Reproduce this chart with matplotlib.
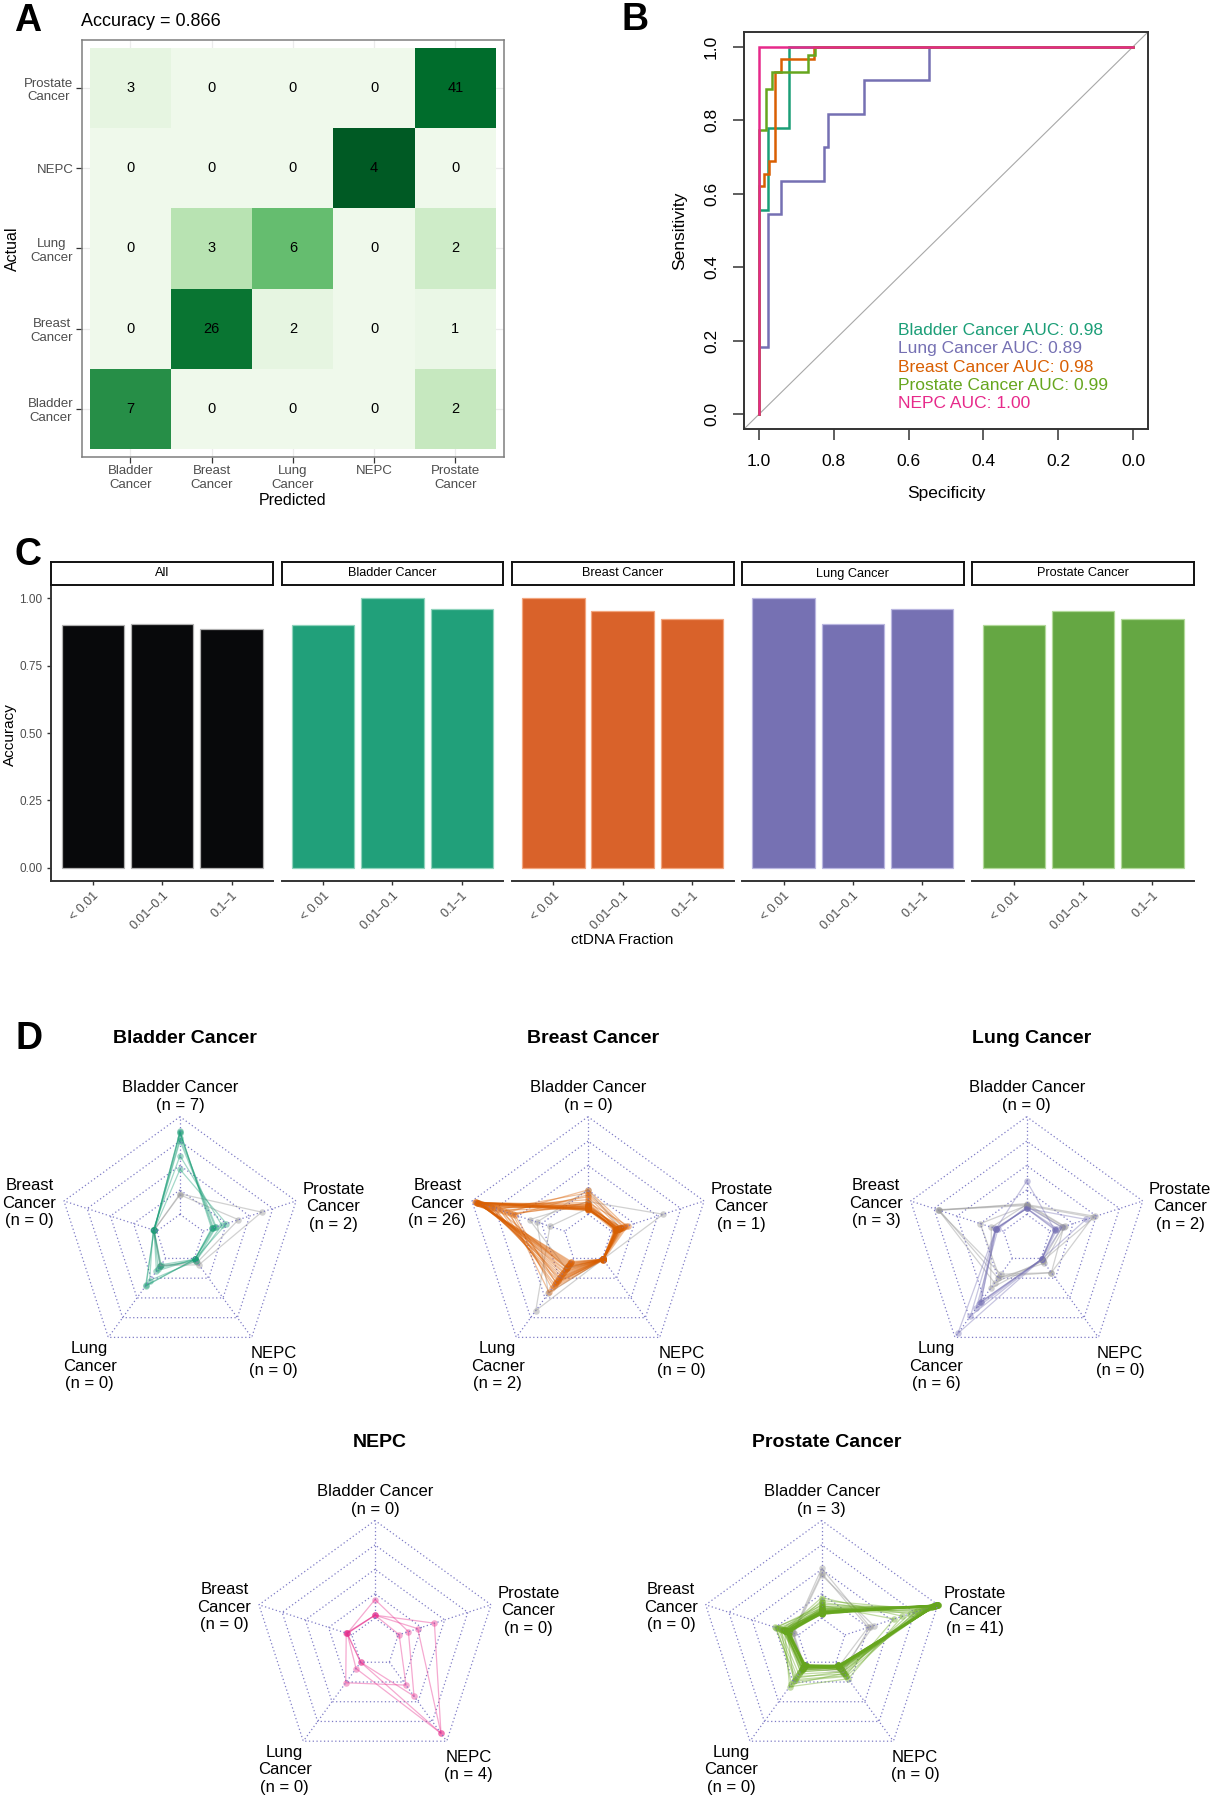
import numpy as np
import matplotlib
matplotlib.use('Agg')
import matplotlib.pyplot as plt
from matplotlib.colors import Normalize

plt.rcParams['font.family'] = ['Liberation Sans', 'DejaVu Sans']

# ---------------- data ----------------
classes = ['Bladder Cancer', 'Breast Cancer', 'Lung Cancer', 'NEPC', 'Prostate Cancer']
short_names = ['Bladder\nCancer', 'Breast\nCancer', 'Lung\nCancer', 'NEPC', 'Prostate\nCancer']
# rows = actual, cols = predicted (same order as classes)
counts = np.array([[7, 0, 0, 0, 2],
                   [0, 26, 2, 0, 1],
                   [0, 3, 6, 0, 2],
                   [0, 0, 0, 4, 0],
                   [3, 0, 0, 0, 41]])
accuracy = 0.866

# ROC curves (specificity, sensitivity vertices)
roc_bladder_spec = [1, 1, 0.977, 0.977, 0.919, 0.919, 0]
roc_bladder_sens = [0, 0.556, 0.556, 0.778, 0.778, 1, 1]
roc_lung_spec = [1, 1, 0.977, 0.977, 0.940, 0.940, 0.825, 0.825, 0.815, 0.815, 0.720, 0.720, 0.546, 0.546, 0]
roc_lung_sens = [0, 0.182, 0.182, 0.545, 0.545, 0.636, 0.636, 0.727, 0.727, 0.818, 0.818, 0.909, 0.909, 1, 1]
roc_breast_spec = [1, 1, 0.987, 0.987, 0.972, 0.972, 0.957, 0.957, 0.942, 0.942, 0.853, 0.853, 0]
roc_breast_sens = [0, 0.621, 0.621, 0.655, 0.655, 0.690, 0.690, 0.931, 0.931, 0.966, 0.966, 1, 1]
roc_prostate_spec = [1, 1, 0.982, 0.982, 0.964, 0.964, 0.869, 0.869, 0.851, 0.851, 0]
roc_prostate_sens = [0, 0.773, 0.773, 0.886, 0.886, 0.932, 0.932, 0.977, 0.977, 1, 1]
roc_nepc_spec = [1, 1, 0]
roc_nepc_sens = [0, 1, 1]
auc_names = ['Bladder Cancer', 'Lung Cancer', 'Breast Cancer', 'Prostate Cancer', 'NEPC']
auc_values = [0.98, 0.89, 0.98, 0.99, 1.00]

# accuracy by ctDNA fraction
facet_names = ['All', 'Bladder Cancer', 'Breast Cancer', 'Lung Cancer', 'Prostate Cancer']
ctdna_bins = ['< 0.01', '0.01\u20130.1', '0.1\u20131']
acc_all = [0.900, 0.905, 0.886]
acc_bladder = [0.900, 1.000, 0.961]
acc_breast = [1.000, 0.953, 0.923]
acc_lung = [1.000, 0.904, 0.961]
acc_prostate = [0.900, 0.953, 0.923]

# radar scores per sample: [bladder, breast, lung, nepc, prostate]
bladder_hit = [[0.85, 0.03, 0.35, 0.01, 0.09],
               [0.83, 0.03, 0.34, 0.01, 0.11],
               [0.75, 0.03, 0.13, 0.01, 0.13],
               [0.60, 0.04, 0.28, 0.03, 0.20],
               [0.46, 0.03, 0.16, 0.01, 0.25],
               [0.84, 0.03, 0.08, 0.01, 0.10],
               [0.78, 0.03, 0.10, 0.03, 0.14]]
bladder_miss = [[0.21, 0.03, 0.09, 0.08, 0.63],
                [0.20, 0.03, 0.09, 0.05, 0.38]]

breast_hit = [[0.06, 0.96, 0.08, 0.01, 0.05], [0.05, 0.95, 0.10, 0.01, 0.06],
              [0.08, 0.96, 0.06, 0.01, 0.04], [0.04, 0.94, 0.12, 0.01, 0.07],
              [0.07, 0.93, 0.09, 0.02, 0.05], [0.10, 0.95, 0.07, 0.01, 0.08],
              [0.05, 0.92, 0.15, 0.01, 0.06], [0.06, 0.90, 0.11, 0.01, 0.10],
              [0.09, 0.91, 0.18, 0.01, 0.05], [0.04, 0.88, 0.20, 0.01, 0.09],
              [0.12, 0.89, 0.14, 0.02, 0.07], [0.06, 0.86, 0.22, 0.01, 0.06],
              [0.08, 0.85, 0.25, 0.01, 0.11], [0.05, 0.83, 0.17, 0.01, 0.08],
              [0.15, 0.80, 0.28, 0.01, 0.06], [0.07, 0.78, 0.24, 0.01, 0.12],
              [0.10, 0.76, 0.30, 0.02, 0.09], [0.22, 0.72, 0.12, 0.01, 0.14],
              [0.06, 0.70, 0.33, 0.01, 0.07], [0.18, 0.66, 0.35, 0.01, 0.10],
              [0.25, 0.62, 0.27, 0.01, 0.16], [0.09, 0.59, 0.43, 0.01, 0.08],
              [0.12, 0.56, 0.38, 0.02, 0.18], [0.20, 0.54, 0.31, 0.01, 0.13],
              [0.07, 0.94, 0.05, 0.01, 0.04], [0.05, 0.97, 0.04, 0.01, 0.03]]
breast_miss = [[0.06, 0.16, 0.66, 0.01, 0.06],
               [0.25, 0.30, 0.44, 0.01, 0.10],
               [0.13, 0.38, 0.13, 0.01, 0.56]]

lung_hit = [[0.34, 0.08, 0.55, 0.01, 0.05],
            [0.06, 0.08, 0.73, 0.01, 0.06],
            [0.06, 0.08, 0.95, 0.01, 0.05],
            [0.06, 0.08, 0.55, 0.01, 0.39],
            [0.06, 0.09, 0.58, 0.01, 0.08],
            [0.08, 0.06, 0.63, 0.01, 0.13]]
lung_miss = [[0.10, 0.71, 0.20, 0.18, 0.15],
             [0.09, 0.70, 0.31, 0.03, 0.13],
             [0.11, 0.69, 0.25, 0.06, 0.16],
             [0.10, 0.13, 0.38, 0.03, 0.49],
             [0.09, 0.25, 0.23, 0.18, 0.46]]

nepc_hit = [[0.03, 0.05, 0.00, 0.90, 0.39],
            [0.03, 0.05, 0.08, 0.90, 0.21],
            [0.19, 0.05, 0.00, 0.43, 0.11],
            [0.03, 0.06, 0.26, 0.29, 0.01]]
nepc_miss = []

prostate_hit = [[0.05, 0.12, 0.04, 0.04, 0.99], [0.06, 0.10, 0.05, 0.05, 0.98],
                [0.04, 0.13, 0.03, 0.04, 1.00], [0.07, 0.11, 0.06, 0.06, 0.97],
                [0.05, 0.14, 0.04, 0.05, 0.99], [0.08, 0.09, 0.05, 0.04, 0.98],
                [0.05, 0.12, 0.07, 0.06, 0.96], [0.06, 0.15, 0.04, 0.05, 1.00],
                [0.04, 0.10, 0.05, 0.07, 0.99], [0.09, 0.12, 0.06, 0.05, 0.97],
                [0.05, 0.11, 0.03, 0.04, 0.98], [0.07, 0.13, 0.05, 0.06, 0.99],
                [0.06, 0.16, 0.08, 0.05, 0.95], [0.04, 0.12, 0.04, 0.08, 0.98],
                [0.05, 0.10, 0.06, 0.05, 1.00], [0.10, 0.14, 0.05, 0.06, 0.96],
                [0.06, 0.11, 0.09, 0.07, 0.97], [0.05, 0.13, 0.04, 0.05, 0.99],
                [0.07, 0.17, 0.06, 0.04, 0.94], [0.08, 0.12, 0.05, 0.09, 0.96],
                [0.05, 0.14, 0.10, 0.06, 0.95], [0.06, 0.10, 0.04, 0.05, 0.99],
                [0.04, 0.11, 0.05, 0.04, 1.00], [0.09, 0.15, 0.07, 0.06, 0.93],
                [0.06, 0.13, 0.12, 0.08, 0.94], [0.05, 0.12, 0.04, 0.05, 0.98],
                [0.11, 0.10, 0.06, 0.07, 0.95], [0.07, 0.18, 0.08, 0.05, 0.92],
                [0.05, 0.11, 0.05, 0.10, 0.96], [0.12, 0.14, 0.09, 0.06, 0.90],
                [0.06, 0.20, 0.15, 0.12, 0.86], [0.14, 0.16, 0.12, 0.09, 0.88],
                [0.08, 0.22, 0.18, 0.15, 0.82], [0.18, 0.13, 0.10, 0.07, 0.84],
                [0.10, 0.25, 0.20, 0.12, 0.78], [0.07, 0.12, 0.24, 0.18, 0.75],
                [0.16, 0.19, 0.28, 0.14, 0.70], [0.21, 0.15, 0.31, 0.21, 0.62],
                [0.13, 0.24, 0.22, 0.17, 0.53], [0.05, 0.09, 0.04, 0.05, 0.99],
                [0.06, 0.12, 0.05, 0.04, 0.97]]
prostate_miss = [[0.51, 0.06, 0.07, 0.13, 0.27],
                 [0.44, 0.05, 0.05, 0.10, 0.31],
                 [0.46, 0.06, 0.06, 0.05, 0.25]]

# ---------------- style ----------------
col_bladder = '#1B9E77'
col_breast = '#D95F02'
col_lung = '#7570B3'
col_prostate = '#66A61E'
col_nepc = '#E7298A'
bar_colors = ['#08090B', '#21A07A', '#D9622A', '#7671B3', '#65A743']
bar_edges = ['#B0B0B0', '#8FD3BC', '#F2A57E', '#B9B6E0', '#B2D99A']

W, H = 1211, 1800
fig = plt.figure(figsize=(W / 100, H / 100), dpi=100)


def box(x0, y0, x1, y1):
    # pixel box measured from top-left -> figure fraction rect
    return [x0 / W, 1 - y1 / H, (x1 - x0) / W, (y1 - y0) / H]


def letter(x, y, s):
    fig.text(x / W, 1 - y / H, s, fontsize=27, fontweight='bold', va='baseline', ha='left')


# ---------------- A: confusion matrix ----------------
axA = fig.add_axes(box(81.7, 40, 504, 457))
prop = counts / counts.sum(axis=1, keepdims=True)
edges = np.arange(0.5, 6.0, 1.0)
axA.pcolormesh(edges, edges, prop, cmap='Greens', norm=Normalize(vmin=-0.07, vmax=1.08), zorder=2)
for i in range(5):
    for j in range(5):
        axA.text(j + 1, i + 1, str(counts[i, j]), ha='center', va='center', fontsize=10.5, zorder=3)
axA.set_xlim(0.4, 5.6)
axA.set_ylim(0.4, 5.6)
axA.set_xticks(range(1, 6))
axA.set_yticks(range(1, 6))
axA.set_xticklabels(short_names)
axA.set_yticklabels(short_names, multialignment='center')
axA.set_axisbelow(True)
axA.grid(True, color='#EBEBEB', lw=0.9)
axA.tick_params(length=4, width=0.9, color='#333333', labelsize=9.5, labelcolor='#4D4D4D', pad=2)
for sp in axA.spines.values():
    sp.set_color('#7F7F7F')
    sp.set_linewidth(1.1)
axA.set_xlabel('Predicted', fontsize=11.5, labelpad=1)
axA.set_ylabel('Actual', fontsize=11.5, labelpad=3)
fig.text(81 / W, 1 - 22 / H, 'Accuracy = %.3f' % accuracy, fontsize=13, va='center', ha='left')
letter(14, 31, 'A')

# ---------------- B: ROC ----------------
axB = fig.add_axes(box(744, 32, 1148, 429))
axB.plot([1.5, -0.5], [-0.5, 1.5], color='#A8A8A8', lw=0.8)
roc_sets = [(roc_bladder_spec, roc_bladder_sens, col_bladder),
            (roc_lung_spec, roc_lung_sens, col_lung),
            (roc_breast_spec, roc_breast_sens, col_breast),
            (roc_prostate_spec, roc_prostate_sens, col_prostate),
            (roc_nepc_spec, roc_nepc_sens, col_nepc)]
for sp_, se_, c in roc_sets:
    axB.plot(sp_, se_, color=c, lw=1.8, solid_joinstyle='miter')
axB.set_xlim(1.04, -0.04)
axB.set_ylim(-0.04, 1.04)
ticks = np.arange(0, 1.01, 0.2)
axB.set_xticks(ticks)
axB.set_yticks(ticks)
axB.set_xticklabels(['%.1f' % t for t in ticks])
axB.set_yticklabels(['%.1f' % t for t in ticks], rotation=90, va='center')
axB.tick_params(length=8, width=1.1, color='#333333', labelsize=12.5, pad=10)
for sp in axB.spines.values():
    sp.set_color('#333333')
    sp.set_linewidth(1.4)
axB.set_xlabel('Specificity', fontsize=12.5, labelpad=12)
axB.set_ylabel('Sensitivity', fontsize=12.5, labelpad=12)
for k, (nm, v) in enumerate(zip(auc_names, auc_values)):
    axB.text(0.629, 0.228 - 0.0497 * k, '%s AUC: %.2f' % (nm, v), color=roc_sets[k][2],
             fontsize=12.5, ha='left', va='center')
letter(621, 30, 'B')

# ---------------- C: accuracy by ctDNA fraction ----------------
facet_vals = [acc_all, acc_bladder, acc_breast, acc_lung, acc_prostate]
fw, fstep, fx0 = 221.7, 230.2, 51.4
for k, (name, vals) in enumerate(zip(facet_names, facet_vals)):
    l = fx0 + k * fstep
    ax = fig.add_axes(box(l, 585, l + fw, 881))
    ax.bar([1, 2, 3], vals, width=0.9, color=bar_colors[k], edgecolor=bar_edges[k], linewidth=0.9)
    ax.set_xlim(0.4, 3.6)
    ax.set_ylim(-0.05, 1.05)
    ax.set_xticks([1, 2, 3])
    ax.set_xticklabels(ctdna_bins, rotation=45, ha='right', rotation_mode='anchor')
    ax.tick_params(axis='x', length=3, width=1, color='#333333', labelsize=9, labelcolor='#4D4D4D', pad=3)
    for s in ['top', 'right']:
        ax.spines[s].set_visible(False)
    ax.spines['bottom'].set_linewidth(1.4)
    ax.spines['bottom'].set_color('#333333')
    if k == 0:
        ax.set_yticks([0, 0.25, 0.5, 0.75, 1.0])
        ax.set_yticklabels(['0.00', '0.25', '0.50', '0.75', '1.00'])
        ax.tick_params(axis='y', length=3, width=1, color='#333333', labelsize=8.5, labelcolor='#4D4D4D')
        ax.spines['left'].set_linewidth(1.4)
        ax.spines['left'].set_color('#333333')
    else:
        ax.spines['left'].set_visible(False)
        ax.set_yticks([])
    sax = fig.add_axes(box(l, 562, l + fw, 585))
    sax.set_xticks([])
    sax.set_yticks([])
    for sp in sax.spines.values():
        sp.set_linewidth(1.4)
        sp.set_color('#111111')
    sax.text(0.5, 0.5, name, ha='center', va='center', fontsize=9.2, transform=sax.transAxes)
fig.text(10 / W, 1 - 735 / H, 'Accuracy', rotation=90, ha='center', va='center', fontsize=11)
fig.text(622 / W, 1 - 940 / H, 'ctDNA Fraction', ha='center', va='center', fontsize=11)
letter(14, 565, 'C')

# ---------------- D: radar charts ----------------
R = 122.0
L = 1.7
grid_col = '#7E7BC6'
angles = np.deg2rad(90 + 72 * np.arange(5))
ux, uy = np.cos(angles), np.sin(angles)
label_pos = [(0.0, 1.165), (-1.235, 0.29), (-0.74, -1.045), (0.765, -1.01), (1.257, 0.26)]
axis_names = ['Bladder Cancer', 'Breast\nCancer', 'Lung\nCancer', 'NEPC', 'Prostate\nCancer']


def radar(cx, cy, title, row, hit, miss, color, names):
    ax = fig.add_axes(box(cx - L * R, cy - L * R, cx + L * R, cy + L * R))
    ax.set_xlim(-L, L)
    ax.set_ylim(-L, L)
    ax.axis('off')
    for lev in [0.2, 0.4, 0.6, 0.8, 1.0]:
        ax.plot(np.append(ux, ux[0]) * lev, np.append(uy, uy[0]) * lev,
                color=grid_col, lw=0.9, ls=(0, (1, 2)))
    for k in range(5):
        ax.plot([0.2 * ux[k], ux[k]], [0.2 * uy[k], uy[k]], color=grid_col, lw=0.9, ls=(0, (1, 2)))
    for rows, c, a in [(miss, '#9A9A9A', 0.45), (hit, color, 0.4)]:
        for v in rows:
            r = 0.2 + 0.8 * np.array(v)
            xs, ys = r * ux, r * uy
            ax.plot(np.append(xs, xs[0]), np.append(ys, ys[0]), color=c, alpha=a, lw=0.9)
            ax.scatter(xs, ys, s=22, color=c, alpha=a, linewidths=0)
    for k in range(5):
        ax.text(label_pos[k][0], label_pos[k][1], '%s\n(n = %d)' % (names[k], counts[row, k]),
                ha='center', va='center', fontsize=12, multialignment='center')
    ax.text(0.04, 1.64, title, ha='center', va='center', fontsize=14, fontweight='bold')


breast_axis_names = list(axis_names)
breast_axis_names[2] = 'Lung\nCacner'
radar(180, 1238.7, 'Bladder Cancer', 0, bladder_hit, bladder_miss, col_bladder, axis_names)
radar(588, 1238.7, 'Breast Cancer', 1, breast_hit, breast_miss, col_breast, breast_axis_names)
radar(1026.7, 1238.7, 'Lung Cancer', 2, lung_hit, lung_miss, col_lung, axis_names)
radar(375, 1642.5, 'NEPC', 3, nepc_hit, nepc_miss, col_nepc, axis_names)
radar(821.7, 1642.5, 'Prostate Cancer', 4, prostate_hit, prostate_miss, col_prostate, axis_names)
letter(15, 1049, 'D')

fig.savefig('out.png', dpi=100)
